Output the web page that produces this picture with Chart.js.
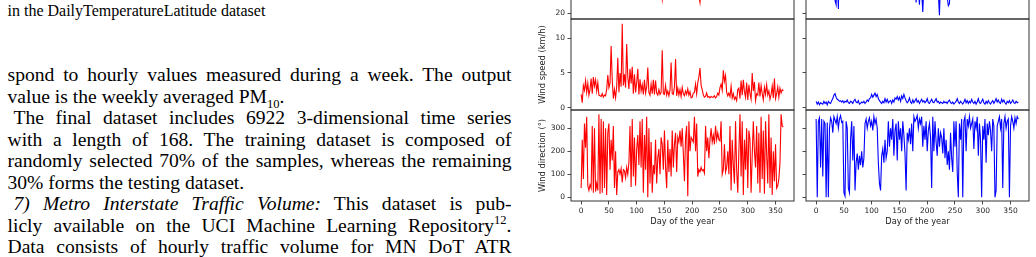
<!DOCTYPE html>
<html>
<head>
<meta charset="utf-8">
<script src="https://cdn.jsdelivr.net/npm/chart.js@4"></script>
<style>
  html, body { margin: 0; padding: 0; background: #fff; }
  body { width: 1036px; height: 257px; overflow: hidden; position: relative; }
  .txt { position: absolute; font-family: "Liberation Serif", serif; font-size: 19.6px; line-height: 21.5px; color: #000; white-space: nowrap; }
  .full { text-align: justify; text-align-last: justify; white-space: normal; }
  .cap { font-size: 16px; line-height: 17px; }
  sub, sup { font-size: 64%; line-height: 0; }
  canvas { position: absolute; }
</style>
</head>
<body>
<div class="txt cap" style="left:7.5px; top:1.5px;">in the DailyTemperatureLatitude dataset</div>
<div class="txt full" style="left:7.5px; top:64px; width:504px;">spond to hourly values measured during a week. The output</div>
<div class="txt" style="left:7.5px; top:85.5px;">value is the weekly averaged PM<sub>10</sub>.</div>
<div class="txt full" style="left:13.5px; top:107px; width:498px;">The final dataset includes 6922 3-dimensional time series</div>
<div class="txt full" style="left:7.5px; top:128.5px; width:504px;">with a length of 168. The training dataset is composed of</div>
<div class="txt full" style="left:7.5px; top:150px; width:504px;">randomly selected 70% of the samples, whereas the remaining</div>
<div class="txt" style="left:7.5px; top:171.5px;">30% forms the testing dataset.</div>
<div class="txt full" style="left:13.5px; top:193px; width:498px;"><i>7) Metro Interstate Traffic Volume:</i> This dataset is pub-</div>
<div class="txt full" style="left:7.5px; top:214.5px; width:504px;">licly available on the UCI Machine Learning Repository<sup>12</sup>.</div>
<div class="txt full" style="left:7.5px; top:236px; width:504px;">Data consists of hourly traffic volume for MN DoT ATR</div>

<canvas id="humL" width="257" height="93" style="left:538px; top:-73px"></canvas>
<canvas id="spdL" width="257" height="93" style="left:538px; top:18px"></canvas>
<canvas id="dirL" width="257" height="118" style="left:538px; top:109px"></canvas>
<canvas id="humR" width="230" height="93" style="left:800px; top:-73px"></canvas>
<canvas id="spdR" width="230" height="93" style="left:800px; top:18px"></canvas>
<canvas id="dirR" width="230" height="118" style="left:800px; top:109px"></canvas>

<script>
// sampling grid: every second day of the year
const days = Array.from({ length: 183 }, (_, i) => i * 2);

const dayTicks = [0, 50, 100, 150, 200, 250, 300, 350];
const humTicks = [20, 40, 60, 80, 100];
const speedTicks = [0, 5, 10];
const dirTicks = [0, 100, 200, 300];

const humidityRed = [
  82, 75, 88, 70, 79, 85, 72, 90, 78, 66, 84, 76, 80, 69, 87, 74, 62, 81,
  77, 68, 85, 73, 64, 79, 71, 60, 83, 67, 75, 58, 70, 78, 63, 55, 74, 66,
  57, 72, 61, 68, 52, 70, 64, 56, 73, 60, 49, 66, 58, 71, 53, 62, 47, 65,
  55, 60, 45, 68, 51, 57, 48, 63, 54, 44, 59, 50, 56, 42, 61, 49, 53, 46,
  40, 33, 52, 45, 58, 43, 50, 47, 39, 55, 44, 51, 42, 57, 48, 41, 53, 46,
  49, 44, 38, 52, 45, 40, 47, 43, 51, 39, 46, 42, 48, 41, 37, 45, 36, 30,
  44, 49, 40, 46, 52, 43, 50, 45, 55, 48, 42, 53, 47, 58, 51, 44, 56, 60,
  52, 63, 49, 57, 66, 55, 61, 68, 58, 64, 71, 59, 67, 62, 74, 65, 70, 77,
  69, 80, 72, 66, 78, 84, 73, 81, 76, 86, 71, 79, 88, 74, 83, 77, 90, 80,
  75, 85, 92, 78, 82, 87, 79, 91, 84, 76, 89, 83, 86, 78, 93, 81, 88, 84,
  90, 80, 85
];
const humidityBlue = [
  80, 88, 76, 92, 84, 79, 90, 83, 75, 87, 81, 93, 78, 86, 72, 84, 70, 32,
  28, 62, 24, 75, 82, 71, 85, 77, 68, 88, 74, 80, 66, 83, 72, 79, 64, 86,
  73, 69, 81, 60, 77, 70, 65, 78, 58, 72, 67, 55, 74, 61, 52, 70, 45, 33,
  58, 66, 50, 63, 71, 54, 62, 48, 67, 57, 44, 60, 53, 65, 49, 58, 42, 61,
  55, 47, 63, 51, 40, 57, 48, 60, 45, 34, 52, 43, 56, 41, 50, 62, 46, 53,
  30, 49, 44, 28, 55, 40, 21, 47, 52, 39, 58, 45, 50, 43, 61, 48, 54, 42,
  57, 46, 39, 18, 53, 44, 60, 49, 55, 41, 35, 27, 29, 52, 58, 47, 63, 55,
  68, 59, 72, 61, 66, 75, 63, 70, 78, 67, 73, 80, 71, 84, 76, 69, 82, 74,
  87, 79, 72, 85, 81, 90, 76, 88, 83, 92, 78, 86, 91, 80, 87, 84, 94, 79,
  86, 93, 82, 89, 95, 85, 90, 84, 96, 88, 81, 92, 87, 94, 83, 91, 89, 95,
  86, 92, 88
];

const windSpeedRed = [
  1.9, 0.7, 3.2, 2.5, 3.9, 2.2, 3.5, 1.8, 2.6, 4.2, 2.0, 4.4,
  3.1, 4.0, 2.4, 3.6, 1.8, 1.7, 1.6, 2.0, 1.5, 1.8, 1.7, 2.6,
  4.7, 2.9, 3.5, 8.9, 4.0, 1.3, 2.6, 1.4, 3.0, 7.2, 2.2, 5.0,
  3.0, 12.1, 3.2, 4.8, 2.9, 9.2, 4.5, 2.7, 5.6, 3.5, 5.9, 2.0,
  4.8, 2.2, 3.6, 5.6, 1.9, 4.1, 2.4, 3.3, 1.9, 4.0, 2.1, 3.0,
  5.8, 2.2, 1.8, 3.4, 2.0, 4.0, 1.9, 3.9, 2.1, 1.8, 2.6, 1.9,
  2.2, 8.3, 2.0, 1.9, 3.2, 1.8, 2.4, 1.7, 2.5, 6.5, 2.0, 1.9,
  3.0, 7.0, 1.7, 2.8, 1.8, 2.6, 1.6, 2.9, 2.0, 1.7, 2.4, 1.9,
  2.7, 1.8, 2.3, 1.4, 1.5, 2.1, 2.2, 3.4, 2.0, 3.6, 4.4, 5.7,
  3.2, 2.6, 1.8, 1.5, 1.6, 2.1, 1.5, 1.6, 1.4, 1.6, 1.5, 1.5,
  1.7, 1.4, 1.6, 2.1, 1.8, 2.9, 3.4, 2.5, 5.4, 3.8, 4.6, 2.2,
  1.7, 2.1, 1.6, 3.1, 1.4, 2.0, 1.2, 1.5, 1.0, 2.6, 2.8, 1.3,
  3.9, 1.8, 4.0, 2.3, 1.5, 3.6, 1.1, 3.3, 2.0, 1.2, 5.0, 2.4,
  3.7, 1.0, 2.0, 1.8, 3.6, 1.6, 3.2, 2.0, 1.1, 2.9, 1.9, 3.3,
  1.8, 2.4, 1.2, 1.9, 3.1, 1.4, 4.2, 1.3, 2.0, 3.0, 1.5, 2.8,
  2.1, 2.6, 2.4
];
const windSpeedBlue = [
  0.9, 0.5, 0.8, 0.4, 0.7, 0.6, 0.5, 0.9, 0.6, 0.8, 0.4, 0.9,
  0.7, 0.6, 1.0, 1.3, 1.8, 2.0, 1.5, 1.2, 1.1, 0.9, 1.0, 0.8,
  1.0, 0.7, 0.9, 0.8, 1.1, 0.7, 0.6, 0.9, 0.8, 0.6, 1.0, 1.2,
  0.8, 0.7, 1.0, 0.5, 0.6, 0.8, 0.7, 0.9, 0.6, 0.8, 1.1, 0.9,
  1.3, 1.4, 1.9, 1.5, 1.8, 2.1, 1.6, 1.9, 1.3, 1.0, 0.8, 0.6,
  0.9, 0.7, 1.3, 0.8, 1.2, 0.7, 0.9, 1.0, 0.6, 1.1, 0.8, 1.4,
  1.2, 1.6, 1.1, 1.5, 0.9, 1.7, 1.3, 1.9, 1.4, 1.0, 0.7, 0.9,
  1.4, 0.8, 0.6, 1.1, 0.7, 1.0, 1.3, 0.8, 1.0, 0.6, 0.9, 1.2,
  0.8, 1.0, 0.7, 0.9, 1.3, 0.7, 0.6, 0.9, 1.2, 0.8, 0.7, 1.0,
  1.3, 0.8, 0.9, 0.6, 0.8, 0.7, 0.6, 0.9, 0.7, 0.8, 0.6, 0.9,
  1.1, 0.7, 0.6, 0.8, 0.5, 0.7, 0.9, 1.3, 0.8, 0.6, 0.9, 0.7,
  0.5, 0.8, 1.2, 0.7, 1.0, 0.6, 0.9, 0.7, 1.2, 0.8, 0.6, 0.9,
  0.5, 0.8, 1.3, 0.7, 0.6, 0.9, 1.2, 0.7, 0.5, 0.9, 0.6, 1.0,
  0.7, 0.5, 0.8, 1.0, 0.6, 0.9, 1.3, 0.8, 1.1, 0.7, 0.6, 1.2,
  0.8, 1.1, 0.7, 0.5, 0.9, 0.7, 1.0, 0.6, 0.8, 1.1, 0.7, 0.6,
  0.9, 0.7, 0.8
];

const windDirRed = [
  40, 250, 80, 320, 215, 350, 50, 30, 55, 40, 310, 20,
  300, 25, 60, 30, 360, 15, 340, 20, 330, 40, 300, 10,
  280, 320, 120, 250, 160, 310, 40, 200, 10, 110, 120, 100,
  125, 65, 120, 115, 85, 130, 100, 150, 310, 45, 340, 90,
  260, 50, 210, 270, 140, 330, 130, 340, 20, 270, 120, 350,
  0, 300, 60, 240, 20, 140, 100, 250, 60, 170, 210, 100,
  260, 230, 120, 290, 130, 40, 250, 110, 210, 90, 290, 130,
  230, 280, 110, 260, 240, 290, 220, 300, 190, 70, 260, 310,
  5, 330, 200, 260, 250, 240, 350, 200, 320, 90, 120, 110,
  130, 115, 120, 105, 310, 200, 260, 170, 250, 300, 240, 270,
  230, 310, 250, 280, 250, 245, 330, 100, 120, 230, 110, 130,
  200, 100, 310, 30, 250, 140, 60, 330, 120, 20, 200, 360,
  90, 330, 10, 250, 120, 300, 40, 290, 250, 20, 180, 330,
  200, 130, 310, 60, 280, 20, 350, 80, 290, 15, 330, 190,
  60, 360, 40, 260, 10, 200, 70, 230, 40, 50, 80, 150,
  360, 310, 305
];
const windDirBlue = [
  340, 0, 330, 345, 130, 340, 90, 330, 320, 0, 325, 0,
  300, 345, 330, 280, 350, 335, 320, 350, 300, 340, 355, 325,
  330, 20, 5, 330, 300, 40, 20, 250, 330, 160, 310, 30,
  150, 190, 120, 180, 140, 200, 130, 170, 320, 340, 300, 330,
  345, 310, 330, 290, 350, 320, 340, 300, 150, 60, 30, 180,
  210, 150, 250, 170, 200, 330, 220, 300, 250, 340, 180, 290,
  320, 160, 330, 250, 300, 200, 330, 270, 190, 30, 280, 250,
  300, 230, 320, 200, 350, 330, 340, 355, 300, 340, 320, 350,
  220, 310, 250, 330, 200, 290, 320, 260, 40, 350, 200, 330,
  240, 180, 300, 220, 280, 260, 190, 300, 170, 250, 140, 200,
  120, 280, 170, 110, 330, 220, 330, 110, 0, 320, 250, 340,
  0, 330, 350, 200, 340, 310, 350, 300, 320, 340, 210, 330,
  300, 350, 180, 320, 250, 0, 310, 250, 340, 150, 320, 270,
  330, 290, 200, 340, 310, 0, 30, 310, 330, 350, 300, 340,
  40, 320, 350, 300, 330, 340, 0, 310, 350, 330, 300, 345,
  320, 350, 340
];

const tickFont = { family: 'DejaVu Sans', size: 7.5 };
const titleFont = { family: 'DejaVu Sans', size: 8.3 };
const inkColor = '#1c1c1c';

// box around every panel, drawn over the lines like matplotlib spines
const frame = {
  id: 'frame',
  afterDatasetsDraw(chart) {
    const { ctx, chartArea: a } = chart;
    ctx.save();
    ctx.strokeStyle = '#333';
    ctx.lineWidth = 1;
    ctx.strokeRect(a.left, a.top, a.right - a.left, a.bottom - a.top);
    ctx.restore();
  }
};

function drawPanel(id, values, color, yMin, yMax, yTicks, yTitle, leftCol, bottom) {
  new Chart(document.getElementById(id), {
    type: 'line',
    data: {
      datasets: [{
        data: values.map((v, i) => ({ x: days[i], y: v })),
        borderColor: color,
        borderWidth: 1.1,
        pointRadius: 0,
        tension: 0
      }]
    },
    options: {
      responsive: false,
      animation: false,
      events: [],
      layout: { padding: { top: 1, right: 1, bottom: bottom ? 0 : 1, left: 0 } },
      plugins: { legend: { display: false }, tooltip: { enabled: false } },
      scales: {
        x: {
          type: 'linear',
          min: -18.25,
          max: 383.25,
          display: bottom,
          afterBuildTicks: s => { s.ticks = dayTicks.map(v => ({ value: v })); },
          afterFit: s => { s.height = bottom ? 26 : 0; s.paddingLeft = 0; s.paddingRight = 0; },
          border: { display: false },
          grid: { drawOnChartArea: false, drawTicks: true, tickLength: 3.5, color: inkColor, lineWidth: 0.8 },
          ticks: { font: tickFont, color: inkColor, padding: 1.8, maxRotation: 0, autoSkip: false },
          title: { display: true, text: 'Day of the year', font: titleFont, color: inkColor, padding: { top: 0, bottom: 0 } }
        },
        y: {
          type: 'linear',
          min: yMin,
          max: yMax,
          afterBuildTicks: s => { s.ticks = yTicks.map(v => ({ value: v })); },
          afterFit: s => { s.width = leftCol ? 33 : 6; s.paddingTop = 0; s.paddingBottom = 0; },
          border: { display: false },
          grid: { drawOnChartArea: false, drawTicks: true, tickLength: 3.5, color: inkColor, lineWidth: 0.8 },
          ticks: { display: leftCol, font: tickFont, color: inkColor, padding: 2.5, autoSkip: false },
          title: { display: leftCol, text: yTitle, font: titleFont, color: inkColor, padding: { top: 0, bottom: 0 } }
        }
      }
    },
    plugins: [frame]
  });
}

drawPanel('humL', humidityRed, '#ff0000', 14.5, 100, humTicks, 'Humidity (%)', true, false);
drawPanel('spdL', windSpeedRed, '#ff0000', -0.35, 12.8, speedTicks, 'Wind speed (km/h)', true, false);
drawPanel('dirL', windDirRed, '#ff0000', -16, 379, dirTicks, 'Wind direction (°)', true, true);
drawPanel('humR', humidityBlue, '#0000ff', 14.5, 100, humTicks, '', false, false);
drawPanel('spdR', windSpeedBlue, '#0000ff', -0.35, 12.8, speedTicks, '', false, false);
drawPanel('dirR', windDirBlue, '#0000ff', -16, 379, dirTicks, '', false, true);
</script>
</body>
</html>
